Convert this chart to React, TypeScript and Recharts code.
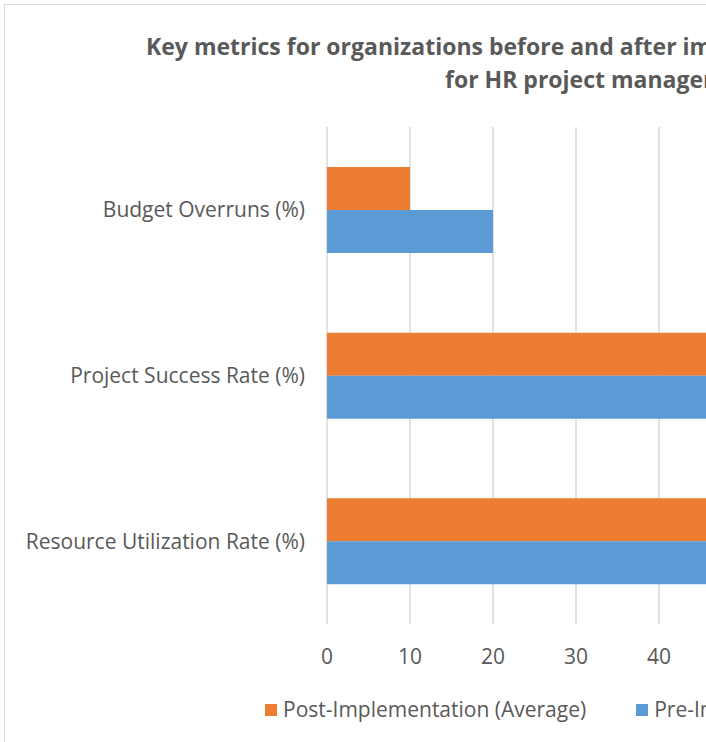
import { BarChart, Bar, XAxis, YAxis, CartesianGrid } from 'recharts';

// categories top to bottom
const metrics = ['Budget Overruns (%)', 'Project Success Rate (%)', 'Resource Utilization Rate (%)'];
const postValues = [10, 85, 90];
const preValues = [20, 60, 70];
const xTicks = [0, 10, 20, 30, 40, 50, 60, 70, 80, 90, 100];
const seriesNames = ['Post-Implementation (Average)', 'Pre-Implementation (Average)'];

const titleLines = [
  'Key metrics for organizations before and after implementing digital solutions',
  'for HR project management',
];

const POST = '#ED7D31';
const PRE = '#5B9BD5';
const TEXT = '#595959';
const FONT = '"Open Sans", sans-serif';

const data = metrics.map((name, i) => ({ name, post: postValues[i], pre: preValues[i] }));

const titleStyle = {
  position: 'absolute' as const,
  fontFamily: FONT,
  fontWeight: 700,
  fontSize: 23,
  lineHeight: '23px',
  color: TEXT,
  whiteSpace: 'nowrap' as const,
};

export default function App() {
  const legendItems = [
    { label: seriesNames[0], color: POST },
    { label: seriesNames[1], color: PRE },
  ];
  return (
    <div style={{ position: 'fixed', left: 0, top: 0, width: 706, height: 742, overflow: 'hidden', background: '#fff' }}>
      <div style={{ position: 'absolute', left: 4, top: 4, width: 1190, height: 780, border: '1px solid #d9d9d9', background: '#fff' }}>
        <div style={{ ...titleStyle, left: 141, top: 30 }}>{titleLines[0]}</div>
        <div style={{ ...titleStyle, left: 440, top: 63 }}>{titleLines[1]}</div>

        <div style={{ position: 'absolute', left: 0, top: 0 }}>
          <BarChart
            width={1190}
            height={760}
            data={data}
            layout="vertical"
            margin={{ top: 122, right: 38, bottom: 111, left: 0 }}
            barCategoryGap={40}
            barGap={0}
            style={{ fontFamily: FONT }}
          >
            <CartesianGrid horizontal={false} stroke="#d9d9d9" strokeWidth={1.5} />
            <XAxis
              type="number"
              domain={[0, 100]}
              ticks={xTicks}
              height={30}
              axisLine={false}
              tickLine={false}
              tickSize={0}
              tickMargin={25}
              tick={{ fill: TEXT, fontSize: 21 }}
              interval={0}
            />
            <YAxis
              type="category"
              dataKey="name"
              width={322}
              axisLine={false}
              tickLine={false}
              tickSize={0}
              tickMargin={22}
              tick={{ fill: TEXT, fontSize: 21 }}
              interval={0}
            />
            <Bar dataKey="post" name={seriesNames[0]} fill={POST} isAnimationActive={false} />
            <Bar dataKey="pre" name={seriesNames[1]} fill={PRE} isAnimationActive={false} />
          </BarChart>
        </div>

        <div style={{ position: 'absolute', left: 260, top: 694, display: 'flex', gap: 50, fontFamily: FONT, fontSize: 21, lineHeight: '21px', color: TEXT, whiteSpace: 'nowrap' }}>
          {legendItems.map((it) => (
            <div key={it.label} style={{ display: 'flex', alignItems: 'center', gap: 6 }}>
              <span style={{ width: 12, height: 12, background: it.color, display: 'inline-block' }} />
              <span>{it.label}</span>
            </div>
          ))}
        </div>
      </div>
    </div>
  );
}
